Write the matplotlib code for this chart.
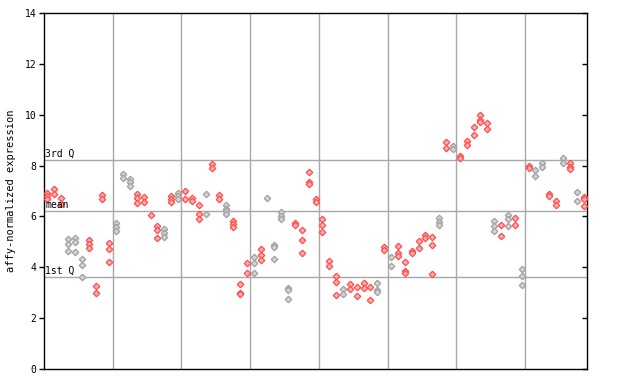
import matplotlib
matplotlib.use("Agg")
import matplotlib.pyplot as plt

# expression values per sample (replicates)
values = [
    [6.91, 6.80, 6.70], [7.08, 6.87], [6.72, 6.50], [5.10, 4.90, 4.64], [5.14, 4.98, 4.60],
    [4.33, 4.08, 3.62], [5.07, 4.90, 4.77], [3.26, 2.98], [6.83, 6.67], [4.94, 4.71, 4.20],
    [5.73, 5.57, 5.43], [7.67, 7.50], [7.46, 7.34, 7.20], [6.87, 6.71, 6.54], [6.75, 6.55],
    [6.06], [5.62, 5.47, 5.14], [5.49, 5.34, 5.18], [6.80, 6.69, 6.58], [6.91, 6.80, 6.69],
    [7.01, 6.67], [6.74, 6.61], [6.44, 6.10, 5.89], [6.88, 6.10], [8.07, 7.89],
    [6.86, 6.69], [6.45, 6.30, 6.20, 6.10], [5.82, 5.70, 5.57], [3.34, 3.00, 2.94], [4.16, 3.79],
    [4.39, 4.16, 3.76], [4.71, 4.47, 4.27], [6.71], [4.88, 4.80, 4.33], [6.17, 6.03, 5.90],
    [3.20, 3.11, 2.74], [5.75, 5.65], [5.45, 5.07, 4.55], [7.73, 7.34, 7.27], [6.69, 6.58],
    [5.89, 5.65, 5.38], [4.23, 4.05], [3.65, 3.41, 2.90], [3.13, 2.94], [3.35, 3.13],
    [3.24, 2.87], [3.37, 3.17], [3.24, 2.70], [3.37, 3.11, 3.03], [4.79, 4.69],
    [4.40, 4.04], [4.82, 4.55, 4.44], [4.20, 3.87, 3.76], [4.63, 4.55], [5.02, 4.75],
    [5.27, 5.15], [5.18, 4.89, 3.72], [5.93, 5.79, 5.65], [8.91, 8.70], [8.78, 8.64],
    [8.39, 8.31], [8.98, 8.82], [9.53, 9.19], [9.97, 9.79, 9.71], [9.66, 9.45],
    [5.82, 5.61, 5.44], [5.66, 5.22], [6.06, 5.90, 5.61], [5.95, 5.65], [3.93, 3.65, 3.30],
    [7.99, 7.89], [7.83, 7.60], [8.09, 7.95], [6.88, 6.80], [6.59, 6.44],
    [8.28, 8.09], [8.09, 7.95, 7.86], [6.96, 6.59], [6.78, 6.70, 6.40],
]
# r = red, g = gray per sample
colors = [
    "r", "r", "r", "g", "g", "g", "r", "r", "r", "r",
    "g", "g", "g", "r", "r", "r", "r", "g", "r", "g",
    "r", "r", "r", "g", "r", "r", "g", "r", "r", "r",
    "g", "r", "g", "g", "g", "g", "r", "r", "r", "r",
    "r", "r", "r", "g", "r", "r", "r", "r", "g", "r",
    "g", "r", "r", "r", "r", "r", "r", "g", "r", "g",
    "r", "r", "r", "r", "r", "g", "r", "g", "r", "g",
    "r", "g", "g", "r", "r", "g", "r", "g", "r",
]

q1, mean_val, q3 = 3.6, 6.2, 8.22
yticks = [0, 2, 4, 6, 8, 10, 12, 14]

red_edge, red_face = "#ff4c4c", "#ffb0b0"
gray_edge, gray_face = "#a0a0a0", "#d4d4d4"

fig = plt.figure(figsize=(6.4, 3.84), dpi=100)
ax = fig.add_axes([44/640, 15/384, 543/640, 356/384])

n = len(values)
for i, vals in enumerate(values):
    ec, fc = (red_edge, red_face) if colors[i] == "r" else (gray_edge, gray_face)
    ax.plot([i]*len(vals), vals, linestyle="none", marker="D", markersize=3.3,
            markeredgecolor=ec, markerfacecolor=fc, markeredgewidth=0.9, zorder=3)

ax.set_xlim(-0.5, n - 0.5)
ax.set_ylim(0, 14)

for k in range(10, n, 10):
    ax.axvline(k - 0.5, color="#a8a8a8", lw=1, zorder=1)
for v, lab in [(q3, "3rd Q"), (mean_val, "mean"), (q1, "1st Q")]:
    ax.axhline(v, color="#a8a8a8", lw=1, zorder=1)
    ax.text(0.002, v + 0.05, lab, transform=ax.get_yaxis_transform(), ha="left", va="bottom",
            fontsize=7, family="DejaVu Sans Mono", color="black", zorder=4)

ax.set_yticks(yticks)
ax.set_yticklabels([str(t) for t in yticks], family="DejaVu Sans Mono", fontsize=7)
ax.set_xticks([])
ax.tick_params(axis="y", left=True, right=False, direction="out", length=3.6, width=1, pad=2)
ax2 = ax.secondary_yaxis("right")
ax2.set_yticks(yticks)
ax2.set_yticklabels([])
ax2.tick_params(axis="y", direction="in", length=3.6, width=1)
ax2.spines["right"].set_visible(False)
for s in ax.spines.values():
    s.set_linewidth(1)

ax.set_ylabel("affy-normalized expression", family="DejaVu Sans Mono", fontsize=7.5, labelpad=6)

fig.savefig("out.png", dpi=100)
